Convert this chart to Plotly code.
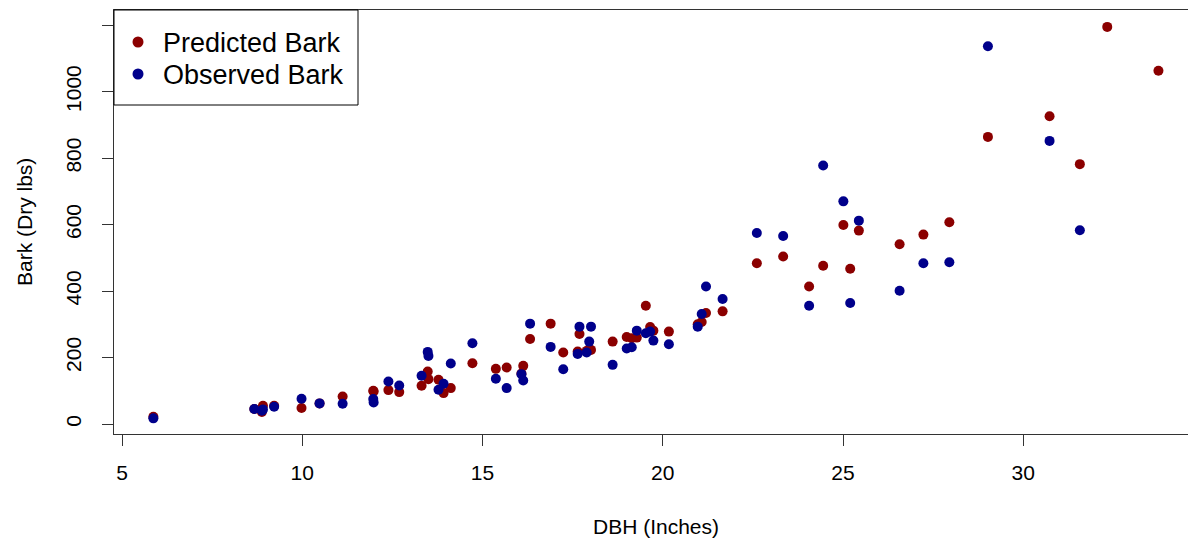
import plotly.graph_objects as go

# Tree diameter at breast height (inches)
dbh = [5.87, 8.67, 8.91, 8.88, 9.22, 9.98, 10.48, 11.12, 11.97, 11.98,
       12.39, 12.69, 13.31, 13.48, 13.50, 13.78, 13.92, 14.12, 14.72, 15.37,
       15.67, 16.08, 16.13, 16.32, 16.89, 17.24, 17.64, 17.69, 17.89, 17.96,
       18.01, 18.61, 19.00, 19.14, 19.28, 19.53, 19.65, 19.74, 20.17, 20.97,
       21.08, 21.20, 21.66, 22.61, 23.34, 24.06, 24.45, 25.01, 25.20, 25.44,
       26.57, 27.23, 27.95, 29.02, 30.73, 31.57, 32.33, 33.75]

# Model-predicted bark weight (dry lbs)
predicted = [22, 45, 55, 36, 55, 48, 62, 83, 100, 98,
             102, 96, 115, 158, 135, 133, 93, 108, 183, 166,
             170, 152, 175, 256, 302, 215, 218, 271, 220, 225,
             223, 248, 262, 258, 260, 356, 292, 281, 278, 300,
             307, 334, 339, 484, 504, 414, 476, 599, 467, 582,
             541, 570, 607, 864, 926, 782, 1195, 1063]

# Measured bark weight (dry lbs); None where no measurement exists
observed = [17, 45, 44, 40, 52, 76, 62, 61, 75, 65,
            128, 116, 145, 217, 205, 103, 121, 182, 243, 136,
            108, 150, 131, 302, 232, 165, 211, 293, 215, 248,
            293, 178, 227, 231, 281, 273, 278, 251, 240, 293,
            331, 414, 376, 575, 566, 356, 778, 670, 364, 612,
            401, 484, 487, 1137, 852, 583, None, None]

series_names = ["Predicted Bark", "Observed Bark"]

x_ticks = [5, 10, 15, 20, 25, 30]
y_ticks = [0, 200, 400, 600, 800, 1000, 1200]
y_tick_text = ["0", "200", "400", "600", "800", "1000", ""]

FONT = "Liberation Sans, Arial, sans-serif"
PRED_COLOR = "#8B0000"
OBS_COLOR = "#00008B"
AXIS_COLOR = "#333333"

# plot-area geometry in pixels (used for paper-coordinate placement)
W, H = 1188, 539
L, R, T, B = 114, 0, 10, 105
PW, PH = W - L - R, H - T - B


def px_x(px):
    return (px - L) / PW


def px_y(py):
    return (H - B - py) / PH


fig = go.Figure()
fig.add_trace(go.Scatter(
    x=dbh, y=predicted, mode="markers", name=series_names[0],
    marker=dict(color=PRED_COLOR, size=10, line=dict(width=0)),
    showlegend=False,
))
fig.add_trace(go.Scatter(
    x=dbh, y=observed, mode="markers", name=series_names[1],
    marker=dict(color=OBS_COLOR, size=10, line=dict(width=0)),
    showlegend=False,
))

# boxed legend in the top-left corner
shapes = [dict(type="rect", xref="paper", yref="paper",
               x0=px_x(114), x1=px_x(358), y0=px_y(105), y1=px_y(10),
               line=dict(color="#000000", width=1), fillcolor="white",
               layer="above")]
annotations = []
for i, (name, col) in enumerate(zip(series_names, [PRED_COLOR, OBS_COLOR])):
    cy = 42 + 32 * i
    shapes.append(dict(type="circle", xref="paper", yref="paper",
                       xsizemode="pixel", ysizemode="pixel",
                       xanchor=px_x(138), yanchor=px_y(cy),
                       x0=-5.5, x1=5.5, y0=-5.5, y1=5.5,
                       fillcolor=col, line=dict(width=0), layer="above"))
    annotations.append(dict(text=name, xref="paper", yref="paper",
                            x=px_x(161), y=px_y(cy + 1),
                            xanchor="left", yanchor="middle",
                            showarrow=False, font=dict(size=27)))

annotations += [
    dict(text="DBH (Inches)", xref="paper", yref="paper",
         x=px_x(656), y=px_y(526),
         xanchor="center", yanchor="middle", showarrow=False,
         font=dict(size=21)),
    dict(text="Bark (Dry lbs)", xref="paper", yref="paper",
         x=px_x(24), y=0.5, textangle=-90,
         xanchor="center", yanchor="middle", showarrow=False,
         font=dict(size=21)),
]

fig.update_layout(
    width=W, height=H,
    margin=dict(l=L, r=R, t=T, b=B),
    paper_bgcolor="white", plot_bgcolor="white",
    font=dict(family=FONT, color="#000000", size=21),
    showlegend=False,
    xaxis=dict(
        range=[4.778, 34.57], tickmode="array", tickvals=x_ticks,
        ticks="outside", ticklen=11, tickcolor=AXIS_COLOR, tickwidth=1,
        showline=True, linecolor=AXIS_COLOR, linewidth=1, mirror=True,
        showgrid=False, zeroline=False, ticklabelstandoff=9,
        tickfont=dict(size=21),
    ),
    yaxis=dict(
        range=[-30.1, 1245.9], tickmode="array", tickvals=y_ticks,
        ticktext=y_tick_text, tickangle=-90,
        ticks="outside", ticklen=11, tickcolor=AXIS_COLOR, tickwidth=1,
        showline=True, linecolor=AXIS_COLOR, linewidth=1, mirror=False,
        showgrid=False, zeroline=False, ticklabelstandoff=13,
        tickfont=dict(size=21),
    ),
    shapes=shapes,
    annotations=annotations,
)

fig.write_html("out.html")
